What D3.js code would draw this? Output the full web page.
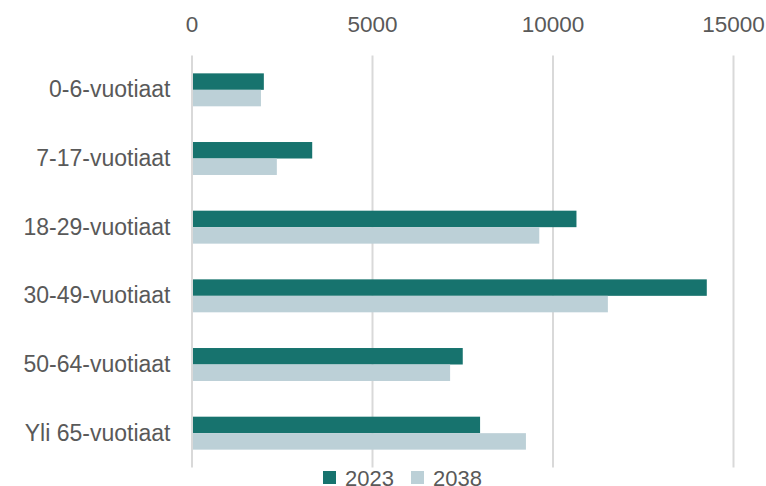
<!DOCTYPE html>
<html>
<head>
<meta charset="utf-8">
<script src="https://cdn.jsdelivr.net/npm/d3@7"></script>
<style>
  body { margin: 0; background: #fff; }
  text { font-family: "Liberation Sans", Arial, sans-serif; fill: #595959; }
</style>
</head>
<body>
<svg id="chart" width="766" height="486"></svg>
<script>
const categories = ['0-6-vuotiaat', '7-17-vuotiaat', '18-29-vuotiaat', '30-49-vuotiaat', '50-64-vuotiaat', 'Yli 65-vuotiaat'];
const seriesNames = ['2023', '2038'];
const values2023 = [1990, 3330, 10650, 14260, 7500, 7980];
const values2038 = [1910, 2350, 9620, 11520, 7150, 9250];
const xTicks = [0, 5000, 10000, 15000];
const colors = ['#17736e', '#bcd0d7'];

const svg = d3.select('#chart');
const margin = { top: 55.5, left: 192, right: 32.5, bottom: 18.5 };
const width = 766, height = 486;

const x = d3.scaleLinear().domain([0, 15000]).range([margin.left, width - margin.right]);
const y = d3.scaleBand().domain(categories).range([margin.top, height - margin.bottom])
    .paddingInner(0.52).paddingOuter(0.26);
const ySub = d3.scaleBand().domain(seriesNames).range([0, y.bandwidth()]);

// gridlines
svg.append('g')
    .selectAll('line')
    .data(xTicks)
    .enter().append('line')
    .attr('x1', d => x(d)).attr('x2', d => x(d))
    .attr('y1', margin.top).attr('y2', height - margin.bottom)
    .attr('stroke', '#d9d9d9')
    .attr('stroke-width', 2);

// top tick labels
svg.append('g')
    .selectAll('text')
    .data(xTicks)
    .enter().append('text')
    .attr('x', d => x(d))
    .attr('y', 31.5)
    .attr('text-anchor', 'middle')
    .style('font-size', '22.5px')
    .text(d => d3.format('d')(d));

// category labels
svg.append('g')
    .selectAll('text')
    .data(categories)
    .enter().append('text')
    .attr('x', 170.5)
    .attr('y', d => y(d) + y.bandwidth() / 2 + 7.5)
    .attr('text-anchor', 'end')
    .style('font-size', '23px')
    .text(d => d);

// bars
const data = categories.map((c, i) => ({ cat: c, vals: [values2023[i], values2038[i]] }));
const group = svg.append('g')
    .selectAll('g')
    .data(data)
    .enter().append('g')
    .attr('transform', d => `translate(0,${y(d.cat)})`);

group.selectAll('rect')
    .data(d => d.vals.map((v, j) => ({ name: seriesNames[j], value: v, j })))
    .enter().append('rect')
    .attr('x', x(0) + 1)
    .attr('y', d => ySub(d.name))
    .attr('width', d => x(d.value) - x(0) - 1)
    .attr('height', ySub.bandwidth())
    .attr('fill', d => colors[d.j]);

// legend
const legendItems = [{ name: '2023', x: 323 }, { name: '2038', x: 411 }];
const legend = svg.append('g').selectAll('g')
    .data(legendItems)
    .enter().append('g')
    .attr('transform', d => `translate(${d.x},471)`);
legend.append('rect')
    .attr('width', 13).attr('height', 13)
    .attr('fill', (d, i) => colors[i]);
legend.append('text')
    .attr('x', 22).attr('y', 14.5)
    .style('font-size', '22px')
    .text(d => d.name);
</script>
</body>
</html>
